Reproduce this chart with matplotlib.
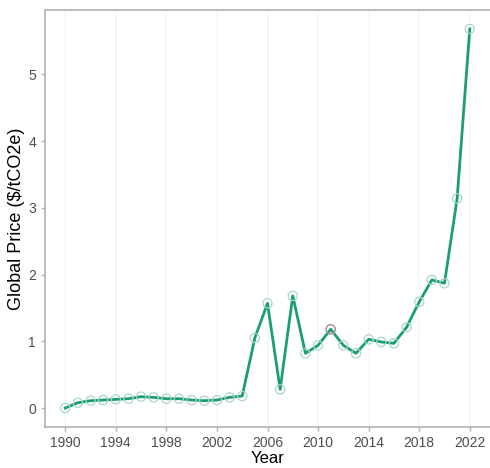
import matplotlib.pyplot as plt
import numpy as np

plt.rcParams['font.family'] = ['Liberation Sans', 'DejaVu Sans']

# Data
years = list(range(1990, 2023))
price = [0.00, 0.08, 0.11, 0.12, 0.13, 0.14, 0.17, 0.16, 0.14, 0.14,
         0.12, 0.11, 0.12, 0.16, 0.18, 1.05, 1.57, 0.28, 1.68, 0.82,
         0.94, 1.18, 0.94, 0.82, 1.03, 0.99, 0.97, 1.21, 1.59, 1.92,
         1.87, 3.14, 5.68]
xticks = [1990, 1994, 1998, 2002, 2006, 2010, 2014, 2018, 2022]
yticks = [0, 1, 2, 3, 4, 5]

fig = plt.figure(figsize=(4.9, 4.68), dpi=100)
ax = fig.add_axes([45/490, 1 - 427/468, 445/490, 417/468])

ax.plot(years, price, color='#1B9E77', lw=2, zorder=2)
ax.scatter(years, price, s=44, facecolors='none', edgecolors='#A8D8C4', linewidths=0.9, zorder=3)
ax.scatter([2011], [1.18], s=44, facecolors='none', edgecolors='#B08888', linewidths=0.9, zorder=3)

xr = years[-1] - years[0]
ax.set_xlim(years[0] - 0.05 * xr, years[-1] + 0.05 * xr)
yr = max(price) - min(price)
ax.set_ylim(min(price) - 0.05 * yr, max(price) + 0.05 * yr)
ax.set_xticks(xticks)
ax.set_yticks(yticks)

for x in xticks:
    ax.axvline(x, color='#F7F7F7', lw=1.2, zorder=0)

for s in ax.spines.values():
    s.set_color('#B3B3B3')
    s.set_linewidth(1.2)
ax.spines['right'].set_visible(False)

ax.tick_params(axis='both', colors='#B3B3B3', labelcolor='#4D4D4D', labelsize=10, length=3, width=1)
ax.set_xlabel('Year', fontsize=12, color='black', labelpad=1)
ax.set_ylabel('Global Price ($/tCO2e)', fontsize=13, color='black', labelpad=2)

fig.savefig('out.png', dpi=100)
